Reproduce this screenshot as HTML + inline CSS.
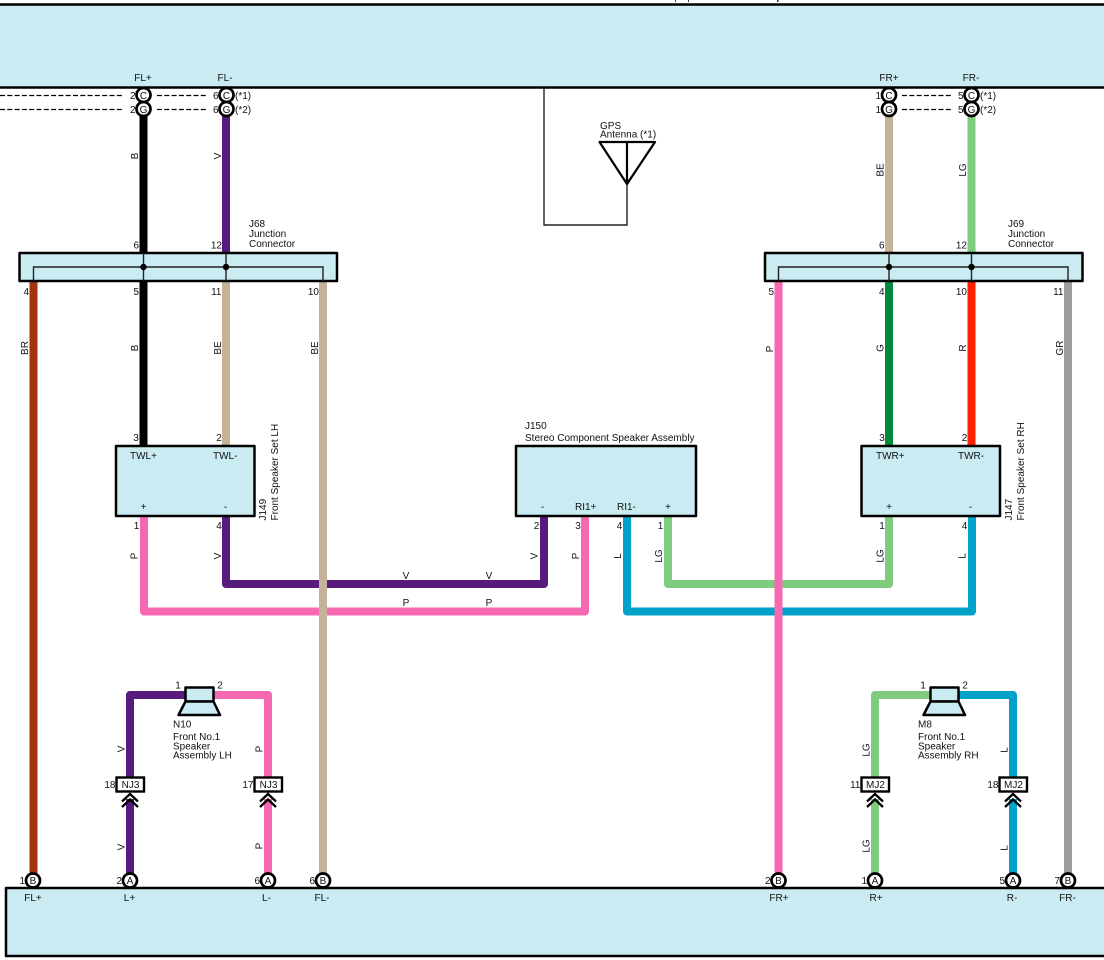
<!DOCTYPE html>
<html>
<head>
<meta charset="utf-8">
<style>
html,body{margin:0;padding:0;background:#fff}
svg{display:block}
text{font-family:"Liberation Sans",sans-serif;font-size:10px;fill:#111}
.m{text-anchor:middle}
.e{text-anchor:end}
.w{fill:none;stroke-width:8;stroke-linejoin:round}
.b{fill:#cbebf3;stroke:#000;stroke-width:2.5;stroke-linejoin:round}
.t{fill:none;stroke:#222;stroke-width:1.4}
.d{fill:none;stroke:#000;stroke-width:1.2;stroke-dasharray:5 2.3}
.c{fill:#fff;stroke:#000;stroke-width:2.7}
.k{fill:none;stroke:#000;stroke-width:2.3}
.n{fill:#fff;stroke:#000;stroke-width:2.4}
</style>
</head>
<body>
<svg width="1104" height="960" viewBox="0 0 1104 960" xmlns="http://www.w3.org/2000/svg">
<rect width="1104" height="960" fill="#fff"/>

<!-- top marks -->
<rect x="675" y="0" width="1" height="2" fill="#333"/>
<rect x="688" y="0" width="1" height="2" fill="#333"/>
<rect x="777" y="0" width="1.500" height="2" fill="#333"/>

<!-- top panel -->
<rect x="-5" y="4.500" width="1120" height="83" class="b"/>
<text x="143" y="81" class="m">FL+</text>
<text x="225" y="81" class="m">FL-</text>
<text x="889" y="81" class="m">FR+</text>
<text x="971" y="81" class="m">FR-</text>

<!-- dashed -->
<path class="d" d="M0 95.500H123M157 95.500H207M0 109.500H123M157 109.500H207M902 95.500H952M902 109.500H952"/>

<!-- antenna -->
<path class="t" d="M544 87V225H627V184"/>
<path fill="none" stroke="#000" stroke-width="2.2" stroke-linejoin="round" d="M599.500 142H655L627 184ZM627 142V184"/>
<text x="600" y="129">GPS</text>
<text x="600" y="137.500">Antenna (*1)</text>

<!-- horizontal harness wires -->
<path class="w" stroke="#f768b3" d="M144 516V611.500H585V516"/>
<path class="w" stroke="#571a7d" d="M226 516V584H544V516"/>
<path class="w" stroke="#00a2c9" d="M627 516V611.500H972V516"/>
<path class="w" stroke="#80cb7e" d="M668 516V584H889V516"/>

<!-- upper wires -->
<path class="w" stroke="#000" d="M143.500 116V253"/>
<path class="w" stroke="#571a7d" d="M226 116V253"/>
<path class="w" stroke="#c4b299" d="M889 116V253"/>
<path class="w" stroke="#80cb7e" d="M971.500 116V253"/>

<!-- lower verticals -->
<path class="w" stroke="#a5330f" d="M33.500 281V880"/>
<path class="w" stroke="#000" d="M143.500 281V446"/>
<path class="w" stroke="#c4b299" d="M226 281V446"/>
<path class="w" stroke="#c4b299" d="M323 281V880"/>
<path class="w" stroke="#f768b3" d="M778.500 281V880"/>
<path class="w" stroke="#008a3c" d="M889 281V446"/>
<path class="w" stroke="#ff2200" d="M971.500 281V446"/>
<path class="w" stroke="#9d9d9d" d="M1068 281V880"/>

<!-- speaker wires -->
<path class="w" stroke="#571a7d" d="M185 695H130V880"/>
<path class="w" stroke="#f768b3" d="M213 695H268V880"/>
<path class="w" stroke="#80cb7e" d="M930 695H875V880"/>
<path class="w" stroke="#00a2c9" d="M958 695H1013V880"/>

<!-- junction connectors -->
<rect x="19.500" y="253" width="317.500" height="28" class="b"/>
<path class="t" d="M33.500 281V267H323V281M143.500 253V281M226 253V281"/>
<circle cx="143.500" cy="267" r="3.200" fill="#000"/>
<circle cx="226" cy="267" r="3.200" fill="#000"/>
<rect x="765" y="253" width="317.500" height="28" class="b"/>
<path class="t" d="M778.500 281V267H1068V281M889 253V281M971.500 253V281"/>
<circle cx="889" cy="267" r="3.200" fill="#000"/>
<circle cx="971.500" cy="267" r="3.200" fill="#000"/>

<text x="249" y="227">J68</text>
<text x="249" y="237">Junction</text>
<text x="249" y="247">Connector</text>
<text x="1008" y="227">J69</text>
<text x="1008" y="237">Junction</text>
<text x="1008" y="247">Connector</text>

<text x="139" y="248.500" class="e">6</text>
<text x="222" y="248.500" class="e">12</text>
<text x="884.500" y="248.500" class="e">6</text>
<text x="967" y="248.500" class="e">12</text>

<text x="29" y="295" class="e">4</text>
<text x="139" y="295" class="e">5</text>
<text x="221.500" y="295" class="e">11</text>
<text x="319" y="295" class="e">10</text>
<text x="774" y="295" class="e">5</text>
<text x="884.500" y="295" class="e">4</text>
<text x="967" y="295" class="e">10</text>
<text x="1063.500" y="295" class="e">11</text>

<!-- top circles -->
<circle cx="143.500" cy="95" r="7" class="c"/>
<circle cx="143.500" cy="109" r="7" class="c"/>
<circle cx="226.500" cy="95" r="7" class="c"/>
<circle cx="226.500" cy="109" r="7" class="c"/>
<circle cx="889" cy="95" r="7" class="c"/>
<circle cx="889" cy="109" r="7" class="c"/>
<circle cx="971.500" cy="95" r="7" class="c"/>
<circle cx="971.500" cy="109" r="7" class="c"/>
<text x="143.500" y="99" class="m">C</text>
<text x="143.500" y="113" class="m">G</text>
<text x="226.500" y="99" class="m">C</text>
<text x="226.500" y="113" class="m">G</text>
<text x="889" y="99" class="m">C</text>
<text x="889" y="113" class="m">G</text>
<text x="971.500" y="99" class="m">C</text>
<text x="971.500" y="113" class="m">G</text>
<text x="135.500" y="99" class="e">2</text>
<text x="135.500" y="113" class="e">2</text>
<text x="218.500" y="99" class="e">6</text>
<text x="218.500" y="113" class="e">6</text>
<text x="881" y="99" class="e">1</text>
<text x="881" y="113" class="e">1</text>
<text x="963.500" y="99" class="e">5</text>
<text x="963.500" y="113" class="e">5</text>
<text x="235" y="99">(*1)</text>
<text x="235" y="113">(*2)</text>
<text x="980" y="99">(*1)</text>
<text x="980" y="113">(*2)</text>

<!-- component boxes -->
<rect x="116" y="446" width="138.500" height="70" class="b"/>
<rect x="516" y="446" width="180" height="70" class="b"/>
<rect x="861.500" y="446" width="138.500" height="70" class="b"/>

<text x="130" y="459">TWL+</text>
<text x="213" y="459">TWL-</text>
<text x="143.500" y="510" class="m">+</text>
<text x="225.500" y="510" class="m">-</text>
<text x="876" y="459">TWR+</text>
<text x="958" y="459">TWR-</text>
<text x="889" y="510" class="m">+</text>
<text x="970.500" y="510" class="m">-</text>
<text x="542.500" y="510" class="m">-</text>
<text x="575" y="510">RI1+</text>
<text x="617" y="510">RI1-</text>
<text x="668" y="510" class="m">+</text>
<text x="525" y="429">J150</text>
<text x="525" y="441">Stereo Component Speaker Assembly</text>

<text x="136" y="441" class="m">3</text>
<text x="219" y="441" class="m">2</text>
<text x="882" y="441" class="m">3</text>
<text x="964.500" y="441" class="m">2</text>
<text x="136.500" y="529" class="m">1</text>
<text x="219" y="529" class="m">4</text>
<text x="536.500" y="529" class="m">2</text>
<text x="578" y="529" class="m">3</text>
<text x="619.500" y="529" class="m">4</text>
<text x="660.500" y="529" class="m">1</text>
<text x="882" y="529" class="m">1</text>
<text x="964.500" y="529" class="m">4</text>

<text transform="translate(266,520.500) rotate(-90)">J149</text>
<text transform="translate(278,520.500) rotate(-90)">Front Speaker Set LH</text>
<text transform="translate(1012,520.500) rotate(-90)">J147</text>
<text transform="translate(1024,520.500) rotate(-90)">Front Speaker Set RH</text>

<!-- wire colour labels rotated -->
<text class="m" transform="translate(138,156) rotate(-90)">B</text>
<text class="m" transform="translate(221,156) rotate(-90)">V</text>
<text class="m" transform="translate(883.500,170) rotate(-90)">BE</text>
<text class="m" transform="translate(966,170) rotate(-90)">LG</text>
<text class="m" transform="translate(28,348) rotate(-90)">BR</text>
<text class="m" transform="translate(138,348) rotate(-90)">B</text>
<text class="m" transform="translate(221,348) rotate(-90)">BE</text>
<text class="m" transform="translate(318,348) rotate(-90)">BE</text>
<text class="m" transform="translate(773,349) rotate(-90)">P</text>
<text class="m" transform="translate(883.500,348) rotate(-90)">G</text>
<text class="m" transform="translate(966,348) rotate(-90)">R</text>
<text class="m" transform="translate(1063,348) rotate(-90)">GR</text>
<text class="m" transform="translate(137.500,556) rotate(-90)">P</text>
<text class="m" transform="translate(221,556) rotate(-90)">V</text>
<text class="m" transform="translate(537.500,556) rotate(-90)">V</text>
<text class="m" transform="translate(579,556) rotate(-90)">P</text>
<text class="m" transform="translate(621,556) rotate(-90)">L</text>
<text class="m" transform="translate(662,556) rotate(-90)">LG</text>
<text class="m" transform="translate(883.500,556) rotate(-90)">LG</text>
<text class="m" transform="translate(965.500,556) rotate(-90)">L</text>

<text class="m" transform="translate(124.500,749) rotate(-90)">V</text>
<text class="m" transform="translate(124.500,847) rotate(-90)">V</text>
<text class="m" transform="translate(262.500,749) rotate(-90)">P</text>
<text class="m" transform="translate(262.500,846) rotate(-90)">P</text>
<text class="m" transform="translate(869.500,750) rotate(-90)">LG</text>
<text class="m" transform="translate(869.500,846) rotate(-90)">LG</text>
<text class="m" transform="translate(1007.500,750) rotate(-90)">L</text>
<text class="m" transform="translate(1007.500,848) rotate(-90)">L</text>

<!-- horizontal wire labels -->
<text x="406" y="579" class="m">V</text>
<text x="489" y="579" class="m">V</text>
<text x="406" y="606" class="m">P</text>
<text x="489" y="606" class="m">P</text>

<!-- speakers -->
<rect x="185.500" y="687.500" width="28" height="14" class="b"/>
<path class="b" d="M185.500 701.500H213.500L220 715H178.500Z"/>
<rect x="930.500" y="687.500" width="28" height="14" class="b"/>
<path class="b" d="M930.500 701.500H958.500L965 715H923.500Z"/>
<text x="178" y="688.500" class="m">1</text>
<text x="220" y="688.500" class="m">2</text>
<text x="923" y="688.500" class="m">1</text>
<text x="965" y="688.500" class="m">2</text>
<text x="173" y="727.500">N10</text>
<text x="173" y="740">Front No.1</text>
<text x="173" y="749.500">Speaker</text>
<text x="173" y="758.500">Assembly LH</text>
<text x="918" y="727.500">M8</text>
<text x="918" y="740">Front No.1</text>
<text x="918" y="749.500">Speaker</text>
<text x="918" y="758.500">Assembly RH</text>

<!-- inline connectors -->
<g>
<rect x="122" y="791" width="16" height="8" fill="#fff"/>
<rect x="260" y="791" width="16" height="8" fill="#fff"/>
<rect x="867" y="791" width="16" height="8" fill="#fff"/>
<rect x="1005" y="791" width="16" height="8" fill="#fff"/>
</g>
<rect x="116.500" y="777.500" width="27.500" height="14" class="n"/>
<rect x="254.500" y="777.500" width="27.500" height="14" class="n"/>
<rect x="861.500" y="777.500" width="27.500" height="14" class="n"/>
<rect x="999.500" y="777.500" width="27.500" height="14" class="n"/>
<text x="130.500" y="788" class="m">NJ3</text>
<text x="268.500" y="788" class="m">NJ3</text>
<text x="875.500" y="788" class="m">MJ2</text>
<text x="1013.500" y="788" class="m">MJ2</text>
<text x="115.500" y="788" class="e">18</text>
<text x="253.500" y="788" class="e">17</text>
<text x="860.500" y="788" class="e">11</text>
<text x="998.500" y="788" class="e">18</text>
<path class="k" d="M122 801.500L130 794L138 801.500M122 807L130 799.500L138 807"/>
<path class="k" d="M260 801.500L268 794L276 801.500M260 807L268 799.500L276 807"/>
<path class="k" d="M867 801.500L875 794L883 801.500M867 807L875 799.500L883 807"/>
<path class="k" d="M1005 801.500L1013 794L1021 801.500M1005 807L1013 799.500L1021 807"/>

<!-- bottom panel -->
<rect x="6" y="888" width="1110" height="68" class="b"/>
<text x="33" y="901" class="m">FL+</text>
<text x="129.500" y="901" class="m">L+</text>
<text x="266.500" y="901" class="m">L-</text>
<text x="322" y="901" class="m">FL-</text>
<text x="779" y="901" class="m">FR+</text>
<text x="876" y="901" class="m">R+</text>
<text x="1012" y="901" class="m">R-</text>
<text x="1067.500" y="901" class="m">FR-</text>

<!-- bottom circles -->
<circle cx="33" cy="880.500" r="7" class="c"/>
<circle cx="130" cy="880.500" r="7" class="c"/>
<circle cx="268" cy="880.500" r="7" class="c"/>
<circle cx="323" cy="880.500" r="7" class="c"/>
<circle cx="778.500" cy="880.500" r="7" class="c"/>
<circle cx="875" cy="880.500" r="7" class="c"/>
<circle cx="1013" cy="880.500" r="7" class="c"/>
<circle cx="1068" cy="880.500" r="7" class="c"/>
<text x="33" y="884" class="m">B</text>
<text x="130" y="884" class="m">A</text>
<text x="268" y="884" class="m">A</text>
<text x="323" y="884" class="m">B</text>
<text x="778.500" y="884" class="m">B</text>
<text x="875" y="884" class="m">A</text>
<text x="1013" y="884" class="m">A</text>
<text x="1068" y="884" class="m">B</text>
<text x="25" y="884" class="e">1</text>
<text x="122" y="884" class="e">2</text>
<text x="260" y="884" class="e">6</text>
<text x="315" y="884" class="e">6</text>
<text x="770.500" y="884" class="e">2</text>
<text x="867" y="884" class="e">1</text>
<text x="1005" y="884" class="e">5</text>
<text x="1060" y="884" class="e">7</text>
</svg>
</body>
</html>
